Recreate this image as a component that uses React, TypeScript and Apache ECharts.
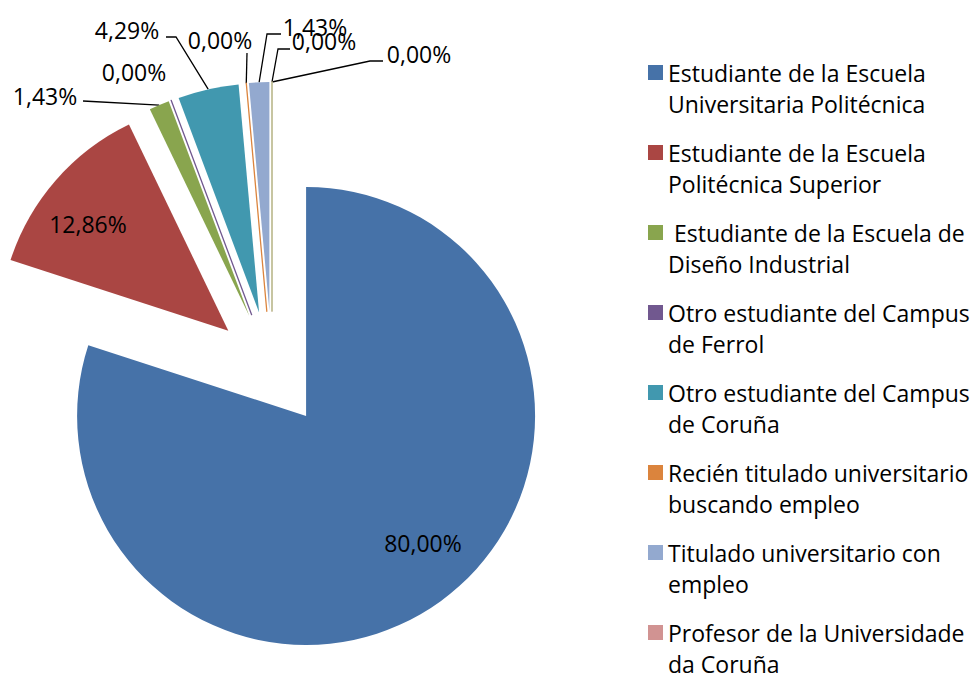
import React, { useEffect, useRef } from 'react';
import * as echarts from 'echarts';

// ---- data ----
const CATEGORIES = [
  'Estudiante de la Escuela\nUniversitaria Politécnica',
  'Estudiante de la Escuela\nPolitécnica Superior',
  ' Estudiante de la Escuela de\nDiseño Industrial',
  'Otro estudiante del Campus\nde Ferrol',
  'Otro estudiante del Campus\nde Coruña',
  'Recién titulado universitario\nbuscando empleo',
  'Titulado universitario con\nempleo',
  'Profesor de la Universidade\nda Coruña',
  'Otros',
];
const VALUES = [56, 9, 1, 0, 3, 0, 1, 0, 0];
const COLORS = ['#4672A8', '#AA4643', '#89A54E', '#71588F', '#4198AF', '#DB843D', '#93A9CF', '#D19392', '#B9CD96'];
const LEGEND_COUNT = 8;

// ---- layout ----
const PIE_CENTER = [272, 369];
const PIE_RADIUS = 229;
const EXPLODE = 58;
const LABEL_POS: number[][] = [
  [423, 543], [88, 224], [45, 96], [134, 72], [127, 30], [220, 40], [315, 27], [324, 41], [419, 54],
];
const LABEL_ELBOWS: (number[][] | null)[] = [
  null,
  null,
  [[83, 101], [83, 101]],
  null,
  [[176, 37], [166, 37]],
  [[247, 53], [247, 53]],
  [[267, 34], [281, 34]],
  [[278, 49], [290, 49]],
  [[370, 61], [383, 61]],
];
const FONT = "'Open Sans', 'Noto Sans', sans-serif";

function pct(v: number, total: number) {
  return ((v / total) * 100).toFixed(2).replace('.', ',') + '%';
}

export default function App() {
  const ref = useRef<HTMLDivElement>(null);
  useEffect(() => {
    const chart = echarts.init(ref.current!, null, { renderer: 'svg' });
    const total = VALUES.reduce((a, b) => a + b, 0);
    let cum = 0;
    const series = VALUES.map((v, i) => {
      const mid = (cum + v / 2) / total;
      cum += v;
      const th = mid * 2 * Math.PI;
      const dx = Math.sin(th);
      const dy = -Math.cos(th);
      const cx = PIE_CENTER[0] + EXPLODE * dx;
      const cy = PIE_CENTER[1] + EXPLODE * dy;
      const outer = [cx + PIE_RADIUS * dx, cy + PIE_RADIUS * dy];
      const inside = i < 2;
      const elbows = LABEL_ELBOWS[i];
      return {
        type: 'pie',
        name: 'slice' + i,
        center: [cx, cy],
        radius: PIE_RADIUS,
        startAngle: 90,
        clockwise: true,
        silent: true,
        avoidLabelOverlap: false,
        minAngle: 0,
        emphasis: { disabled: true },
        label: {
          show: true,
          position: inside ? 'inside' : 'outside',
          formatter: () => pct(v, total),
          fontFamily: FONT,
          fontSize: 23,
          color: '#000',
        },
        labelLine: { show: !!elbows, lineStyle: { color: '#000', width: 1.3 } },
        labelLayout: (p: any) => {
          if (p.dataIndex !== i) return {};
          const o: any = {
            x: LABEL_POS[i][0],
            y: LABEL_POS[i][1],
            align: 'center',
            verticalAlign: 'middle',
          };
          if (elbows) o.labelLinePoints = [outer, ...elbows];
          return o;
        },
        data: VALUES.map((w, j) => ({
          name: CATEGORIES[j],
          value: w,
          itemStyle:
            j === i
              ? { color: COLORS[j], borderWidth: w === 0 ? 1.3 : 0, borderColor: COLORS[j] }
              : { color: 'transparent', borderWidth: 0 },
          label: { show: j === i },
          labelLine: { show: j === i && !!elbows },
        })),
      };
    });

    chart.setOption({
      animation: false,
      color: COLORS,
      legend: {
        orient: 'vertical',
        left: 648,
        top: 26,
        height: 800,
        padding: 0,
        itemWidth: 15,
        itemHeight: 15,
        itemGap: -13,
        icon: 'rect',
        selectedMode: false,
        data: CATEGORIES.slice(0, LEGEND_COUNT).map((n, i) => ({ name: n, itemStyle: { color: COLORS[i] } })),
        formatter: (n: string) => '\n' + n,
        textStyle: { fontFamily: FONT, fontSize: 23, lineHeight: 31, color: '#000' },
      },
      series,
    });
    return () => chart.dispose();
  }, []);
  return <div ref={ref} style={{ position: 'fixed', left: 0, top: 0, width: 977, height: 677, background: '#fff' }} />;
}
